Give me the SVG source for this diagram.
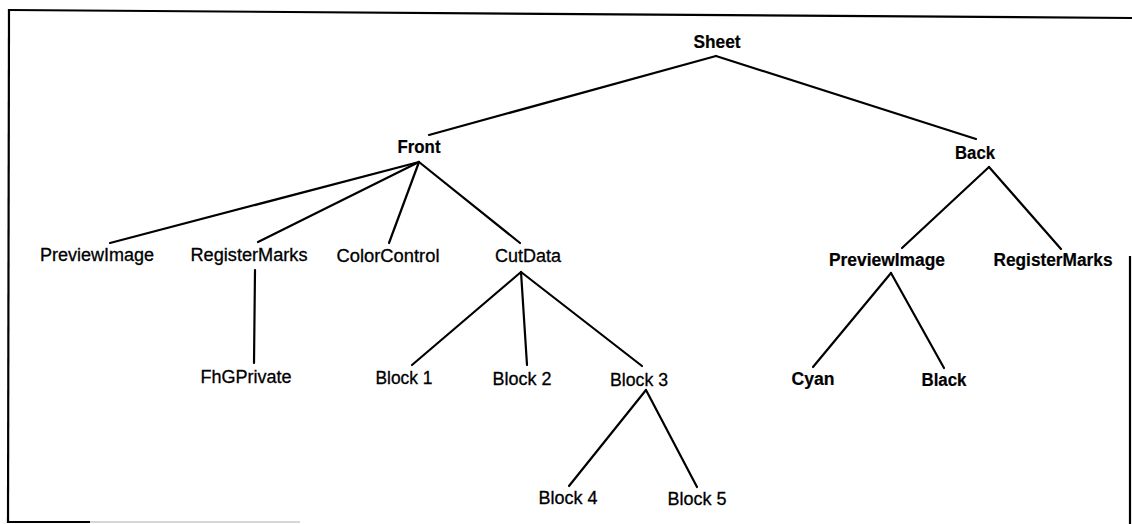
<svg xmlns="http://www.w3.org/2000/svg" width="1132" height="524" viewBox="0 0 1132 524">
  <style>
    .frame { stroke: #000; stroke-width: 2.2; fill: none; }
    .edge { stroke: #000; stroke-width: 2.2; stroke-linecap: round; fill: none; }
    .label { font-family: "Liberation Sans", Arial, Helvetica, sans-serif; font-size: 18px; fill: #000; stroke: #000; stroke-width: 0.3; text-anchor: middle; }
    .strong { font-weight: bold; stroke-width: 0.2; }
  </style>
  <rect width="1132" height="524" fill="#fff"/>

  <!-- page frame -->
  <g id="frame">
    <line class="frame" x1="10" y1="10" x2="1132" y2="18"/>
    <line class="frame" x1="9" y1="9" x2="8" y2="523"/>
    <line class="frame" x1="1130" y1="256" x2="1130" y2="524"/>
    <line class="frame" x1="8" y1="522" x2="90" y2="522"/>
    <line x1="90" y1="522" x2="300" y2="522" stroke="#c8c8c8" stroke-width="1.5"/>
  </g>

  <!-- connectors -->
  <g id="connectors">
    <line class="edge" x1="716" y1="56" x2="429" y2="135"/>
    <line class="edge" x1="716" y1="56" x2="976" y2="139"/>
    <line class="edge" x1="419" y1="162" x2="110" y2="243"/>
    <line class="edge" x1="419" y1="162" x2="258" y2="242"/>
    <line class="edge" x1="419" y1="162" x2="389" y2="243"/>
    <line class="edge" x1="419" y1="162" x2="520" y2="243"/>
    <line class="edge" x1="255" y1="270" x2="254" y2="363"/>
    <line class="edge" x1="521" y1="272" x2="412" y2="365"/>
    <line class="edge" x1="521" y1="272" x2="527" y2="365"/>
    <line class="edge" x1="521" y1="272" x2="642" y2="366"/>
    <line class="edge" x1="646" y1="390" x2="569" y2="486"/>
    <line class="edge" x1="646" y1="390" x2="697" y2="487"/>
    <line class="edge" x1="989" y1="167" x2="902" y2="248"/>
    <line class="edge" x1="989" y1="167" x2="1061" y2="249"/>
    <line class="edge" x1="891" y1="273" x2="813" y2="367"/>
    <line class="edge" x1="891" y1="273" x2="944" y2="368"/>
  </g>

  <!-- nodes -->
  <g id="node-sheet"><text class="label strong" x="717" y="48" textLength="47" lengthAdjust="spacingAndGlyphs">Sheet</text></g>
  <g id="node-front"><text class="label strong" x="419" y="153" textLength="43" lengthAdjust="spacingAndGlyphs">Front</text></g>
  <g id="node-back"><text class="label strong" x="975" y="159" textLength="40" lengthAdjust="spacingAndGlyphs">Back</text></g>

  <g id="node-front-preview"><text class="label" x="97" y="261" textLength="114" lengthAdjust="spacingAndGlyphs">PreviewImage</text></g>
  <g id="node-front-register"><text class="label" x="249" y="261" textLength="117" lengthAdjust="spacingAndGlyphs">RegisterMarks</text></g>
  <g id="node-colorcontrol"><text class="label" x="388" y="262" textLength="103" lengthAdjust="spacingAndGlyphs">ColorControl</text></g>
  <g id="node-cutdata"><text class="label" x="528" y="262" textLength="66" lengthAdjust="spacingAndGlyphs">CutData</text></g>

  <g id="node-fhgprivate"><text class="label" x="246" y="383" textLength="91" lengthAdjust="spacingAndGlyphs">FhGPrivate</text></g>
  <g id="node-block1"><text class="label" x="404" y="384" textLength="57" lengthAdjust="spacingAndGlyphs">Block 1</text></g>
  <g id="node-block2"><text class="label" x="522" y="385" textLength="59" lengthAdjust="spacingAndGlyphs">Block 2</text></g>
  <g id="node-block3"><text class="label" x="639" y="386" textLength="58" lengthAdjust="spacingAndGlyphs">Block 3</text></g>
  <g id="node-block4"><text class="label" x="568" y="504" textLength="59" lengthAdjust="spacingAndGlyphs">Block 4</text></g>
  <g id="node-block5"><text class="label" x="697" y="505" textLength="59" lengthAdjust="spacingAndGlyphs">Block 5</text></g>

  <g id="node-back-preview"><text class="label strong" x="887" y="266" textLength="116" lengthAdjust="spacingAndGlyphs">PreviewImage</text></g>
  <g id="node-back-register"><text class="label strong" x="1053" y="266" textLength="119" lengthAdjust="spacingAndGlyphs">RegisterMarks</text></g>
  <g id="node-cyan"><text class="label strong" x="813" y="385" textLength="43" lengthAdjust="spacingAndGlyphs">Cyan</text></g>
  <g id="node-black"><text class="label strong" x="944" y="386" textLength="45" lengthAdjust="spacingAndGlyphs">Black</text></g>
</svg>
